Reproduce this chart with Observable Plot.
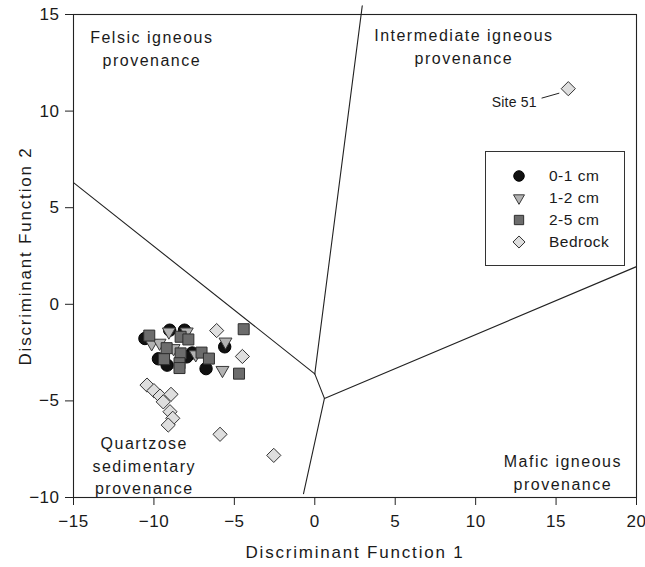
<!DOCTYPE html>
<html>
<head>
<meta charset="utf-8">
<script src="https://cdn.jsdelivr.net/npm/d3@7"></script>
<script src="https://cdn.jsdelivr.net/npm/@observablehq/plot@0.6"></script>
<style>
  body { margin: 0; background: #fff; }
  #chart { position: relative; width: 645px; height: 567px; font-family: "Liberation Sans", Arial, sans-serif; color: #1a1a1a; }
  #chart svg text { letter-spacing: 0.5px; }
  #chart svg g[aria-label="x-axis label"] text,
  #chart svg g[aria-label="y-axis label"] text { letter-spacing: 1.8px; }
  #chart svg g.region-labels text { letter-spacing: 1.5px; }
  #chart svg g.callout text { letter-spacing: 0.2px; }
  #legend { position: absolute; left: 485px; top: 151px; width: 140px; height: 115px; box-sizing: border-box; border: 1px solid #333; background: #fff; }
  #legend text { font-size: 15.5px; letter-spacing: 1px; fill: #1a1a1a; }
</style>
</head>
<body>
<div id="chart"></div>
<script>
// Sample groups (depth intervals and bedrock)
const groups = ["0-1 cm", "1-2 cm", "2-5 cm", "Bedrock"];

// Discriminant function scores [DF1, DF2] for each group
const depth0to1 = [[-10.56, -1.77], [-9.02, -1.34], [-8.1, -1.34], [-9.72, -2.82], [-9.18, -3.15],
                   [-7.62, -2.52], [-7.96, -2.72], [-6.76, -3.33], [-5.6, -2.2]];
const depth1to2 = [[-10.14, -2.03], [-9.65, -2.0], [-9.07, -1.42], [-7.96, -1.42], [-8.78, -2.28],
                   [-7.4, -2.6], [-5.74, -3.41], [-5.55, -1.94]];
const depth2to5 = [[-10.29, -1.62], [-8.34, -1.68], [-7.86, -1.82], [-9.21, -2.27], [-8.34, -2.54],
                   [-9.37, -2.84], [-8.41, -3.05], [-8.41, -3.3], [-7.04, -2.5], [-6.58, -2.81],
                   [-4.42, -1.29], [-4.71, -3.59]];
const bedrock   = [[-6.1, -1.36], [-4.5, -2.7], [-10.43, -4.18], [-10.0, -4.47], [-9.62, -4.75],
                   [-8.94, -4.66], [-9.42, -5.05], [-9.0, -5.56], [-8.83, -5.9], [-9.11, -6.25],
                   [-5.89, -6.73], [-2.55, -7.82], [15.76, 11.16]];

// Provenance field boundaries
const boundaries = [
  [[-15, 6.3], [0.0, -3.6]],
  [[0.0, -3.6], [2.95, 15.45]],
  [[0.0, -3.6], [0.6, -4.87]],
  [[0.6, -4.87], [20, 1.95]],
  [[0.6, -4.87], [-0.7, -9.8]]
];

// Provenance field names
const fieldNames = ["Felsic igneous\nprovenance", "Intermediate igneous\nprovenance",
                    "Quartzose\nsedimentary\nprovenance", "Mafic igneous\nprovenance"];
const fieldX = [-10.13, 9.27, -10.6, 15.42];
const fieldY = [13.32, 13.42, -8.29, -8.63];

// Callout for the outlying bedrock sample
const calloutText = ["Site 51"];
const calloutX = [13.8];
const calloutY = [10.45];
const calloutLeader = [[14.1, 10.67], [15.2, 10.93]];

// Axis ticks
const xTicks = [-15, -10, -5, 0, 5, 10, 15, 20];
const yTicks = [-10, -5, 0, 5, 10, 15];

// Downward-pointing triangle symbol
const triangleDown = {
  draw(context, size) {
    const y = -Math.sqrt(size / (Math.sqrt(3) * 3));
    context.moveTo(0, -y * 2);
    context.lineTo(-Math.sqrt(3) * y, y);
    context.lineTo(Math.sqrt(3) * y, y);
    context.closePath();
  }
};

const toRows = (pts, group) => pts.map(([x, y]) => ({x, y, group}));
const segRows = boundaries.flatMap((seg, i) => seg.map(([x, y]) => ({x, y, seg: i})));

const styles = {
  "0-1 cm":  {symbol: "circle",     r: 6.2, fill: "#111", stroke: "#000"},
  "1-2 cm":  {symbol: triangleDown, r: 4.8, fill: "#b3b3b3", stroke: "#3a3a3a"},
  "2-5 cm":  {symbol: "square",     r: 6.2, fill: "#6c6c6c", stroke: "#2e2e2e"},
  "Bedrock": {symbol: "diamond2",   r: 6.4, fill: "#dedede", stroke: "#333"}
};
const series = [depth0to1, depth1to2, depth2to5, bedrock];

const dotMarks = groups.map((g, i) =>
  Plot.dot(toRows(series[i], g), {
    x: "x", y: "y",
    symbol: styles[g].symbol, r: styles[g].r,
    fill: styles[g].fill, stroke: styles[g].stroke, strokeWidth: 1
  })
);

const chart = Plot.plot({
  width: 645,
  height: 567,
  marginLeft: 73,
  marginRight: 9,
  marginTop: 14,
  marginBottom: 70,
  style: {fontFamily: "'Liberation Sans', Arial, sans-serif", fontSize: "16px", color: "#1a1a1a", background: "#fff", overflow: "visible"},
  x: {domain: [-15, 20]},
  y: {domain: [-10, 15]},
  marks: [
    Plot.line(segRows, {x: "x", y: "y", z: "seg", stroke: "#222", strokeWidth: 1.1}),
    Plot.frame({stroke: "#222", strokeWidth: 1.1}),
    Plot.axisX(xTicks, {tickSize: 8, tickPadding: 9, fontSize: 17, label: "Discriminant Function 1",
                        labelArrow: "none", labelAnchor: "center", labelOffset: 60, stroke: "#222"}),
    Plot.axisY(yTicks, {tickSize: 8, tickPadding: 6, fontSize: 17, label: "Discriminant Function 2",
                        labelArrow: "none", labelAnchor: "center", labelOffset: 55, stroke: "#222"}),
    Plot.text(fieldNames, {x: (d, i) => fieldX[i], y: (d, i) => fieldY[i], text: d => d,
                           fontSize: 16, lineHeight: 1.42, fill: "#1a1a1a", className: "region-labels"}),
    Plot.link(calloutText, {x1: () => calloutLeader[0][0], y1: () => calloutLeader[0][1],
                            x2: () => calloutLeader[1][0], y2: () => calloutLeader[1][1], stroke: "#222"}),
    Plot.text(calloutText, {x: (d, i) => calloutX[i], y: (d, i) => calloutY[i], text: d => d,
                            textAnchor: "end", fontSize: 14, fill: "#1a1a1a", className: "callout"}),
    ...dotMarks
  ]
});

// Axis titles are set a touch larger than tick labels
d3.select(chart).selectAll('g[aria-label="x-axis label"] text, g[aria-label="y-axis label"] text')
  .attr("font-size", 17);

const host = document.getElementById("chart");
host.appendChild(chart);

// Legend box
const legend = d3.select(host).append("div").attr("id", "legend")
  .append("svg").attr("width", 138).attr("height", 113);
groups.forEach((g, i) => {
  const s = styles[g];
  const sym = typeof s.symbol === "string"
    ? {circle: d3.symbolCircle, square: d3.symbolSquare, diamond2: d3.symbolDiamond2}[s.symbol]
    : s.symbol;
  const row = legend.append("g").attr("transform", `translate(33,${24 + i * 22})`);
  row.append("path")
    .attr("d", d3.symbol(sym, Math.PI * (s.r * 0.85) ** 2)())
    .attr("fill", s.fill).attr("stroke", s.stroke);
  row.append("text").attr("x", 30).attr("dy", "0.35em").text(g);
});
</script>
</body>
</html>
